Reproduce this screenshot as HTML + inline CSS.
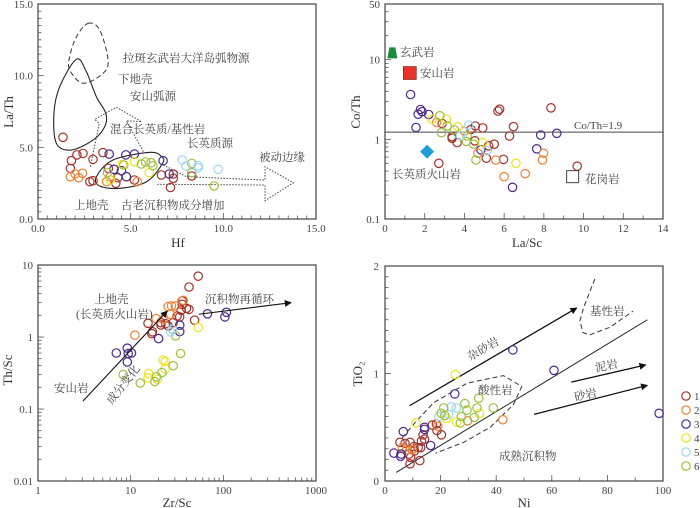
<!DOCTYPE html>
<html><head><meta charset="utf-8"><style>
html,body{margin:0;padding:0;background:#fff;}
svg{display:block;}
.n{font-family:"Liberation Serif",serif;font-size:11px;fill:#444;}
.t{font-family:"Liberation Serif",serif;font-size:13px;fill:#333;}
.c{font-family:"Liberation Serif","Noto Serif CJK SC",serif;font-size:11.5px;fill:#444;}
</style></head><body>
<svg id="s" width="700" height="508" viewBox="0 0 700 508" xmlns="http://www.w3.org/2000/svg"></svg>
<script>
const colors = ['#a3322b','#ec8238','#4b2a8c','#f2e21e','#9fd6f2','#9cc13c'];
const seriesNames = ['1','2','3','4','5','6'];
// Panel A: Hf vs La/Th  [series, Hf, La/Th]
const aHf = [1.35,1.8,2.1,2.43,2.97,3.5,1.75,2.8,2.97,3.8,4.3,4.2,5.2,6.66,7.3,7.15,8.3,7.3, 1.75,2.0,2.2,2.4,3.7,3.9,5.35, 3.84,4.74,5.2,4.1,4.5,4.77,6.75,7.08, 4.55,5.2,6.0,3.9, 4.63,5.58,5.8,6.1,6.2,3.75,8.3,8.3,9.5, 7.78,7.98,8.64,8.64,9.72];
const aLaTh = [5.7,4.07,4.47,4.58,4.16,4.63,3.53,2.6,2.67,3.53,2.88,2.49,2.72,3.07,2.84,2.2,3.0,3.14, 2.95,3.14,2.88,3.19,2.6,2.95,2.6, 4.53,4.47,4.53,3.47,3.37,2.95,4.07,3.14, 3.81,4.0,3.23,2.72, 3.77,3.84,3.98,3.93,3.72,3.23,3.88,3.23,2.3, 4.12,3.7,3.72,3.58,3.47];
const aSer = [0,0,0,0,0,0,0,0,0,0,0,0,0,0,0,0,0,0, 1,1,1,1,1,1,1, 2,2,2,2,2,2,2,2, 3,3,3,3, 5,5,5,5,5,5,5,5,5, 4,4,4,4,4];
// Panel B: La/Sc vs Co/Th
const bLaSc = [1.29,1.79,1.87,1.67,2.2,1.56,4.83,6.42,7.64,7.84,8.65, 2.88,3.38,3.38,3.63,4.33,4.55,4.92,4.52,2.71,5.1,5.5,5.22,5.69,5.77,6.27,6.47,5.97,8.36,9.68, 2.6,4.0,4.68,5.58,6.0,7.06,7.98,7.93, 2.37,3.09,3.66,4.93,6.59, 2.76,3.13,2.84,3.5,4.13,4.1,4.46,4.58, 4.21,3.8,5.13];
const bCoTh = [3.65,2.37,2.22,2.07,2.05,1.41,0.74,0.25,0.76,1.13,1.19, 1.58,1.08,1.03,0.91,1.33,1.47,1.39,0.96,0.5,0.58,0.87,0.83,2.26,2.39,1.1,1.44,0.56,2.49,0.46, 1.63,1.27,0.67,0.55,0.34,0.37,0.67,0.55, 1.79,1.78,1.44,0.91,0.5, 1.98,1.48,1.21,1.31,1.1,0.94,0.87,0.55, 1.51,1.11,0.72];
const bSer = [2,2,2,2,2,2,2,2,2,2,2, 0,0,0,0,0,0,0,0,0,0,0,0,0,0,0,0,0,0,0, 1,1,1,1,1,1,1,1, 3,3,3,3,3, 5,5,5,5,5,5,5,5, 4,4,4];
// Panel C: Zr/Sc vs Th/Sc
const cZrSc = [53.5,42.6,36,36,40,42.6,35,31.7,33.8,28.8,25.4,21.2,21.2,15.4,17.2,16.9,23.9,49, 11.1,18.8,25.4,27.6,30.3,36.9,26.9,22.4, 7.0,9.2,9.4,10.2,9.2,20,33.8,33.8,67.5,104,108, 53.5,22.4,23.6,15.6,15.4,19.5,23.6, 30.6,34.6,28.8,8.3,12.7,18.2,19.0,21.8, 26.9,28.2];
const cThSc = [7.0,4.95,3.16,2.85,2.5,2.42,2.35,1.96,1.9,1.58,1.42,1.58,1.47,1.55,1.18,1.11,1.53,1.71, 1.06,1.8,2.64,2.7,2.7,3.23,2.07,1.76, 0.6,0.7,0.59,0.6,0.45,0.95,1.46,1.19,2.1,1.9,2.2, 1.35,0.48,0.46,0.31,0.27,0.26,0.36, 1.04,0.59,0.40,0.3,0.23,0.24,0.28,0.32, 1.18,1.28];
const cSer = [0,0,0,0,0,0,0,0,0,0,0,0,0,0,0,0,0,0, 1,1,1,1,1,1,1,1, 2,2,2,2,2,2,2,2,2,2,2, 3,3,3,3,3,3,3, 5,5,5,5,5,5,5,5, 4,4];
// Panel D: Ni vs TiO2
const dNi = [5.4,7.2,9,10.4,11.9,13.1,13.7,14.2,8.6,9.2,9,12.8,10.6,12.5,17,18.5,18.7,20.3, 6.2,7.8,19,29.7,42.4,9.8, 3.2,5.8,5.6,6.6,14.2,14.2,16.4,25.1,46,60.8,98.6, 11.1,25.3,22.1,25.7,34, 19.4,23.8,25.7,22.9, 21.1,20.2,21.5,27.5,28.7,29.5,33.1,33.7,39,27.1,32.1];
const dTiO2 = [0.36,0.35,0.36,0.32,0.31,0.37,0.43,0.39,0.25,0.22,0.16,0.31,0.28,0.19,0.52,0.53,0.47,0.43, 0.31,0.29,0.51,0.56,0.57,0.29, 0.26,0.25,0.23,0.46,0.5,0.48,0.33,0.81,1.22,1.03,0.63, 0.54,0.99,0.58,0.55,0.63, 0.6,0.69,0.68,0.62, 0.68,0.63,0.61,0.6,0.72,0.66,0.68,0.77,0.68,0.54,0.59];
const dSer = [0,0,0,0,0,0,0,0,0,0,0,0,0,0,0,0,0,0, 1,1,1,1,1,1, 2,2,2,2,2,2,2,2,2,2,2, 3,3,3,3,3, 4,4,4,4, 5,5,5,5,5,5,5,5,5,5,5];

const NS='http://www.w3.org/2000/svg';
const svg=document.getElementById('s');
function mk(tag,attrs,parent,text){const e=document.createElementNS(NS,tag);for(const k in attrs)e.setAttribute(k,attrs[k]);if(text!==undefined)e.textContent=text;(parent||svg).appendChild(e);return e;}
function lin(d0,d1,p0,p1){return v=>p0+(v-d0)/(d1-d0)*(p1-p0);}
function lg(d0,d1,p0,p1){return v=>p0+(Math.log10(v)-Math.log10(d0))/(Math.log10(d1)-Math.log10(d0))*(p1-p0);}
function path(pts,X,Y,close){return pts.map((p,i)=>(i?'L':'M')+X(p[0]).toFixed(1)+','+Y(p[1]).toFixed(1)).join('')+(close?'Z':'');}
function smooth(pts,X,Y){const P=pts.map(p=>[X(p[0]),Y(p[1])]);const n=P.length;let d='M'+P[0][0]+','+P[0][1];for(let i=0;i<n;i++){const p0=P[(i-1+n)%n],p1=P[i],p2=P[(i+1)%n],p3=P[(i+2)%n];d+='C'+(p1[0]+(p2[0]-p0[0])/6)+','+(p1[1]+(p2[1]-p0[1])/6)+' '+(p2[0]-(p3[0]-p1[0])/6)+','+(p2[1]-(p3[1]-p1[1])/6)+' '+p2[0]+','+p2[1];}return d;}
function txt(x,y,s,cls,g,extra){const e=mk('text',Object.assign({x:x,y:y,class:cls},extra||{}),g,s);return e;}
function frame(g,x0,y0,x1,y1){const r=mk('rect',{x:x0,y:y0,width:x1-x0,height:y1-y0,fill:'none',stroke:'#444','stroke-width':1.2},g);}
function tick(g,x1,y1,x2,y2){mk('line',{x1:x1,y1:y1,x2:x2,y2:y2,stroke:'#555','stroke-width':0.8},g);}
function points(g,xs,ys,ser,X,Y){for(let i=0;i<xs.length;i++){const c=mk('circle',{cx:X(xs[i]).toFixed(1),cy:Y(ys[i]).toFixed(1),r:4.2,fill:'none',stroke:colors[ser[i]],'stroke-width':1.2},g);}}
function arrowDef(){const d=mk('defs',{});const m=mk('marker',{id:'ah',viewBox:'0 0 10 10',refX:9,refY:5,markerWidth:9,markerHeight:7,orient:'auto',markerUnits:'userSpaceOnUse'},d);mk('path',{d:'M0,0L10,5L0,10z',fill:'#111'},m);}
arrowDef();

// ---------- Panel A ----------
(function(){
const g=mk('g',{});
const X=lin(0,15,38,316),Y=lin(0,15,219,4);
for(let v=0;v<=15.001;v+=0.5){const maj=Math.abs(v%5)<1e-6;tick(g,X(v),219,X(v),219-(maj?6:3.5));tick(g,38,Y(v),38+(maj?6:3.5),Y(v));}
[0,5,10,15].forEach(v=>{txt(X(v),232,v.toFixed(1),'n',g,{'text-anchor':'middle'});txt(33,Y(v)+4,v.toFixed(1),'n',g,{'text-anchor':'end'});});
frame(g,38,4,316,219);
txt(178,247,'Hf','t',g,{'text-anchor':'middle'});
txt(0,0,'La/Th','t',g,{'text-anchor':'middle',transform:'translate(13,112) rotate(-90)'});
const dash=[[2.7,13.65],[3.33,13.19],[3.78,11.1],[3.51,10.16],[2.43,9.47],[1.71,10.4],[1.71,11.33],[2.07,12.7]];
let e=mk('path',{d:smooth(dash,X,Y),fill:'none',stroke:'#333','stroke-width':1,'stroke-dasharray':'5,3'},g);
const lc=[[2.07,11.14],[2.6,10.3],[3.15,8.53],[3.66,7.37],[3.6,6.44],[2.97,5.51],[1.8,4.81],[0.99,5.28],[0.86,7.37],[1.17,9.23]];
e=mk('path',{d:smooth(lc,X,Y),fill:'none',stroke:'#222','stroke-width':1.1},g);
const uc=[[3.15,2.95],[4.05,4.12],[6.04,4.65],[6.67,4.35],[6.72,3.88],[5.86,2.6],[4.41,2.14],[3.33,2.3]];
e=mk('path',{d:smooth(uc,X,Y),fill:'none',stroke:'#222','stroke-width':1.1},g);
const ar1=[[2.83,3.65],[3.3,6.67],[3.06,6.95],[4.23,7.79],[5.59,6.79],[4.77,6.86],[5.68,4.7]];
e=mk('path',{d:path(ar1,X,Y),fill:'none',stroke:'#444','stroke-width':1,'stroke-dasharray':'1.5,1.5'},g);
const ar2=[[6.76,3.77],[8.02,2.95],[12.25,2.72],[12.25,3.65],[13.78,2.53],[12.25,1.28],[12.25,2.37],[6.4,2.42]];
e=mk('path',{d:path(ar2,X,Y),fill:'none',stroke:'#444','stroke-width':1,'stroke-dasharray':'1.5,1.5'},g);
points(g,aHf,aLaTh,aSer,X,Y);
txt(123,62,'拉斑玄武岩大洋岛弧物源','c',g);txt(118,83,'下地壳','c',g);txt(130,100,'安山弧源','c',g);
txt(110,133,'混合长英质/基性岩','c',g);txt(187,147,'长英质源','c',g);txt(259,161,'被动边缘','c',g);
txt(74,209,'上地壳','c',g);txt(121,209,'古老沉积物成分增加','c',g);
})();

// ---------- Panel B ----------
(function(){
const g=mk('g',{});
const X=lin(0,14,385,663),Y=lg(0.1,50,219,4);
for(let v=0;v<=14;v++){tick(g,X(v),219,X(v),219-(v%2?3.5:6));}
[0,2,4,6,8,10,12,14].forEach(v=>txt(X(v),232,String(v),'n',g,{'text-anchor':'middle'}));
[0.1,1,10].forEach(d=>{for(let k=1;k<=9;k++){const v=d*k;if(v>50)break;tick(g,385,Y(v),385+(k==1?6:3.5),Y(v));}});
[['0.1',0.1],['1',1],['10',10],['50',50]].forEach(a=>txt(380,Y(a[1])+4,a[0],'n',g,{'text-anchor':'end'}));
frame(g,385,4,663,219);
txt(527,247,'La/Sc','t',g,{'text-anchor':'middle'});
txt(0,0,'Co/Th','t',g,{'text-anchor':'middle',transform:'translate(360,112) rotate(-90)'});
let e=mk('line',{x1:385,y1:Y(1.23),x2:663,y2:Y(1.23),stroke:'#444','stroke-width':1},g);
points(g,bLaSc,bCoTh,bSer,X,Y);
e=mk('path',{d:`M${X(0.37)-5},${Y(12)+5}L${X(0.37)+5},${Y(12)+5}L${X(0.37)+3},${Y(12)-6}L${X(0.37)-3},${Y(12)-6}Z`,fill:'#1f8a3a'},g);
e=mk('rect',{x:X(1.25)-6.5,y:Y(6.8)-6.5,width:13,height:13,fill:'#e8322a',stroke:'#7a1a14','stroke-width':0.6},g);
e=mk('path',{d:`M${X(2.12)},${Y(0.7)-7}L${X(2.12)+7},${Y(0.7)}L${X(2.12)},${Y(0.7)+7}L${X(2.12)-7},${Y(0.7)}Z`,fill:'#1ba0d8'},g);
e=mk('rect',{x:X(9.45)-6,y:Y(0.34)-6,width:12,height:12,fill:'#fff',stroke:'#444','stroke-width':1},g);
txt(400,56,'玄武岩','c',g);txt(420,77,'安山岩','c',g);txt(392,178,'长英质火山岩','c',g);txt(585,183,'花岗岩','c',g);
txt(574,129,'Co/Th=1.9','n',g);
})();

// ---------- Panel C ----------
(function(){
const g=mk('g',{});
const X=lg(1,1000,38,316),Y=lg(0.01,10,481,265);
[1,10,100].forEach(d=>{for(let k=1;k<=9;k++){tick(g,X(d*k),481,X(d*k),481-(k==1?6:3.5));}});
[0.01,0.1,1].forEach(d=>{for(let k=1;k<=9;k++){tick(g,38,Y(d*k),38+(k==1?6:3.5),Y(d*k));}});
[['1',1],['10',10],['100',100],['1000',1000]].forEach(a=>txt(X(a[1]),494,a[0],'n',g,{'text-anchor':'middle'}));
[['0.01',0.01],['0.1',0.1],['1',1],['10',10]].forEach(a=>txt(33,Y(a[1])+4,a[0],'n',g,{'text-anchor':'end'}));
frame(g,38,265,316,481);
txt(177,507,'Zr/Sc','t',g,{'text-anchor':'middle'});
txt(0,0,'Th/Sc','t',g,{'text-anchor':'middle',transform:'translate(12,370) rotate(-90)'});
points(g,cZrSc,cThSc,cSer,X,Y);
let e=mk('line',{x1:X(3.06),y1:Y(0.129),x2:X(24.8),y2:Y(2.3),stroke:'#111','stroke-width':1.1,'marker-end':'url(#ah)'},g);
e=mk('line',{x1:X(54.3),y1:Y(2.07),x2:X(539),y2:Y(3.0),stroke:'#111','stroke-width':1.1,'marker-end':'url(#ah)'},g);
txt(94,303,'上地壳','c',g);txt(76,318,'(长英质火山岩)','c',g);txt(205,303,'沉积物再循环','c',g);txt(54,392,'安山岩','c',g);
txt(0,0,'成分变化','c',g,{transform:'translate(112,405) rotate(-52)'});
})();

// ---------- Panel D ----------
(function(){
const g=mk('g',{});
const X=lin(0,100,385,663),Y=lin(0,2,481,266);
for(let v=0;v<=100;v+=10)tick(g,X(v),481,X(v),481-(v%20?3.5:6));
for(let i=0;i<=20;i++){const v=i/10;tick(g,385,Y(v),385+(i%10?3.5:6),Y(v));}
[0,20,40,60,80,100].forEach(v=>txt(X(v),494,String(v),'n',g,{'text-anchor':'middle'}));
[0,1,2].forEach(v=>txt(379,Y(v)+4,String(v),'n',g,{'text-anchor':'end'}));
frame(g,385,266,663,481);
txt(524,507,'Ni','t',g,{'text-anchor':'middle'});
txt(0,0,'TiO₂','t',g,{'text-anchor':'middle',transform:'translate(362,374) rotate(-90)'});
let e=mk('line',{x1:X(4),y1:Y(0.08),x2:X(94.4),y2:Y(1.5),stroke:'#222','stroke-width':1},g);
const mafic=[[75.5,1.88],[71.5,1.62],[70.1,1.49],[71.2,1.38],[73.7,1.36],[80.9,1.43],[89.2,1.58]];
e=mk('path',{d:path(mafic,X,Y),fill:'none',stroke:'#333','stroke-width':1,'stroke-dasharray':'5,3'},g);
const felsic=[[6.2,0.40],[11,0.55],[17.6,0.73],[29.5,0.91],[42.6,0.98],[49.2,0.88],[46.2,0.71],[37.8,0.50],[28.3,0.36],[18.2,0.26]];
e=mk('path',{d:path(felsic,X,Y),fill:'none',stroke:'#333','stroke-width':1,'stroke-dasharray':'5,3'},g);
[[[8.8,0.70],[69,1.61],'greywacke-arrow'],[[67,0.92],[93.8,1.08],'mudstone-arrow'],[[53.6,0.62],[94.4,0.89],'sandstone-arrow']].forEach(a=>{const l=mk('line',{x1:X(a[0][0]),y1:Y(a[0][1]),x2:X(a[1][0]),y2:Y(a[1][1]),stroke:'#111','stroke-width':1.3,'marker-end':'url(#ah)'},g);});
points(g,dNi,dTiO2,dSer,X,Y);
txt(590,315,'基性岩','c',g);txt(478,394,'酸性岩','c',g);txt(499,460,'成熟沉积物','c',g);
txt(0,0,'杂砂岩','c',g,{transform:'translate(470,361) rotate(-30)'});
txt(0,0,'泥岩','c',g,{transform:'translate(596,372) rotate(-12)'});
txt(0,0,'砂岩','c',g,{transform:'translate(575,401) rotate(-12)'});
})();

// ---------- Legend ----------
(function(){
const g=mk('g',{});
for(let i=0;i<6;i++){const y=396+i*14;const c=mk('circle',{cx:686,cy:y,r:4.2,fill:'none',stroke:colors[i],'stroke-width':1.2},g);txt(694,y+4,seriesNames[i],'n',g);}
})();
</script>
</body></html>
